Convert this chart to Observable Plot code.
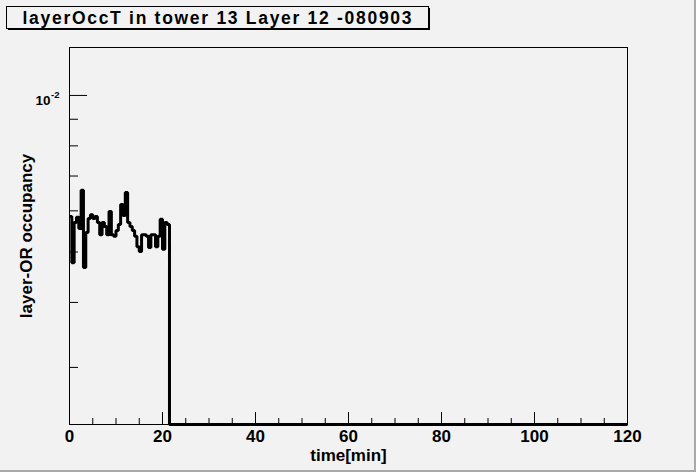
<!DOCTYPE html>
<html>
<head>
<meta charset="utf-8">
<script src="https://cdn.jsdelivr.net/npm/d3@7"></script>
<script src="https://cdn.jsdelivr.net/npm/@observablehq/plot@0.6"></script>
<style>
  html, body { margin: 0; padding: 0; background: #f2f2f2; }
</style>
</head>
<body>
<div id="chart"></div>
<script>
const titleText = "layerOccT in tower 13 Layer 12 -080903";
const xLabel = "time[min]";
const yLabel = "layer-OR occupancy";

// one value per 0.5 min bin
const binWidth = 0.5;
const occupancy = [
  5.85e-3, 4.77e-3, 5.70e-3, 5.83e-3, 5.55e-3, 6.57e-3, 4.67e-3, 5.45e-3,
  5.80e-3, 5.90e-3, 5.80e-3, 5.85e-3, 5.70e-3, 5.40e-3, 5.70e-3, 5.60e-3,
  5.40e-3, 5.98e-3, 5.40e-3, 5.36e-3, 5.50e-3, 5.65e-3, 6.17e-3, 5.88e-3,
  6.51e-3, 5.70e-3, 5.60e-3, 5.50e-3, 5.36e-3, 5.12e-3, 5.01e-3, 5.40e-3,
  5.40e-3, 5.36e-3, 5.10e-3, 5.40e-3, 5.40e-3, 5.12e-3, 5.36e-3, 5.78e-3,
  5.06e-3, 5.70e-3, 5.65e-3
];

const xDomain = [0, 120];
const yDomain = [2.33e-3, 1.2365e-2];
const xMajor = [0, 20, 40, 60, 80, 100, 120];
const xMinor = d3.range(0, 121, 5).filter(d => d % 20 !== 0);
const yMajor = [0.01];
const yMinor = [0.003, 0.004, 0.005, 0.006, 0.007, 0.008, 0.009];

const W = 696, H = 472;
const m = {top: 47, right: 69, bottom: 48, left: 69};
const frameW = W - m.left - m.right;
const frameH = H - m.top - m.bottom;

// histogram as steps; empty bins sit on the bottom of the frame like ROOT does
const rows = occupancy.map((v, i) => ({t: i * binWidth, v}));
rows.push({t: occupancy.length * binWidth, v: 0}, {t: xDomain[1], v: 0});

const chart = Plot.plot({
  width: W,
  height: H,
  marginTop: m.top,
  marginRight: m.right,
  marginBottom: m.bottom,
  marginLeft: m.left,
  style: {
    fontFamily: "Liberation Sans",
    fontWeight: "bold",
    background: "#f2f2f2",
    color: "black"
  },
  x: {domain: xDomain},
  y: {type: "log", domain: yDomain},
  marks: [
    Plot.frame({stroke: "black", strokeWidth: 1}),
    Plot.tickX(xMajor, {x: d => d, insetTop: frameH - 12, stroke: "black"}),
    Plot.tickX(xMinor, {x: d => d, insetTop: frameH - 6, stroke: "black"}),
    Plot.tickY(yMajor, {y: d => d, insetRight: frameW - 18, stroke: "black"}),
    Plot.tickY(yMinor, {y: d => d, insetRight: frameW - 9, stroke: "black"}),
    Plot.axisX({ticks: xMajor, tickSize: 0, tickPadding: 5, fontSize: 17, label: null}),
    Plot.axisY({ticks: [], tickSize: 0, label: null}),
    Plot.text(yMajor, {y: d => d, frameAnchor: "left", text: () => "10",
      textAnchor: "end", dx: -19, dy: 5, fontSize: 13.5}),
    Plot.text(yMajor, {y: d => d, frameAnchor: "left", text: () => "-2",
      textAnchor: "start", dx: -18.5, dy: 0, fontSize: 9.5}),
    Plot.text([xLabel], {frameAnchor: "bottom", text: d => d, textAnchor: "middle", dy: 36, fontSize: 17}),
    Plot.text([yLabel], {frameAnchor: "left", text: d => d, textAnchor: "middle", rotate: -90, dx: -43, fontSize: 17}),
    Plot.line(rows, {
      x: "t",
      y: d => Math.max(d.v, yDomain[0]),
      curve: "step-after",
      stroke: "black",
      strokeWidth: 3,
      strokeLinejoin: "miter",
      strokeLinecap: "butt"
    })
  ]
});

const svg = d3.select(chart);

// ROOT-style canvas border (right and bottom)
svg.append("rect").attr("x", W - 2).attr("y", 0).attr("width", 2).attr("height", H).attr("fill", "#a8a8a8");
svg.append("rect").attr("x", 0).attr("y", H - 2).attr("width", W).attr("height", 2).attr("fill", "#a8a8a8");

// title box with shadow
const box = {x: 6, y: 6, w: 422, h: 22};
svg.append("rect").attr("x", box.x + 2).attr("y", box.y + 2).attr("width", box.w).attr("height", box.h).attr("fill", "black");
svg.append("rect").attr("x", box.x + 0.5).attr("y", box.y + 0.5).attr("width", box.w).attr("height", box.h)
  .attr("fill", "#f2f2f2").attr("stroke", "black");
svg.append("text").attr("x", box.x + box.w / 2).attr("y", 23.5).attr("text-anchor", "middle")
  .attr("font-family", "Liberation Sans").attr("font-weight", "bold").attr("font-size", 17.5)
  .attr("textLength", 389).attr("lengthAdjust", "spacing")
  .attr("fill", "black").text(titleText);

d3.select("#chart").append(() => chart);
</script>
</body>
</html>
